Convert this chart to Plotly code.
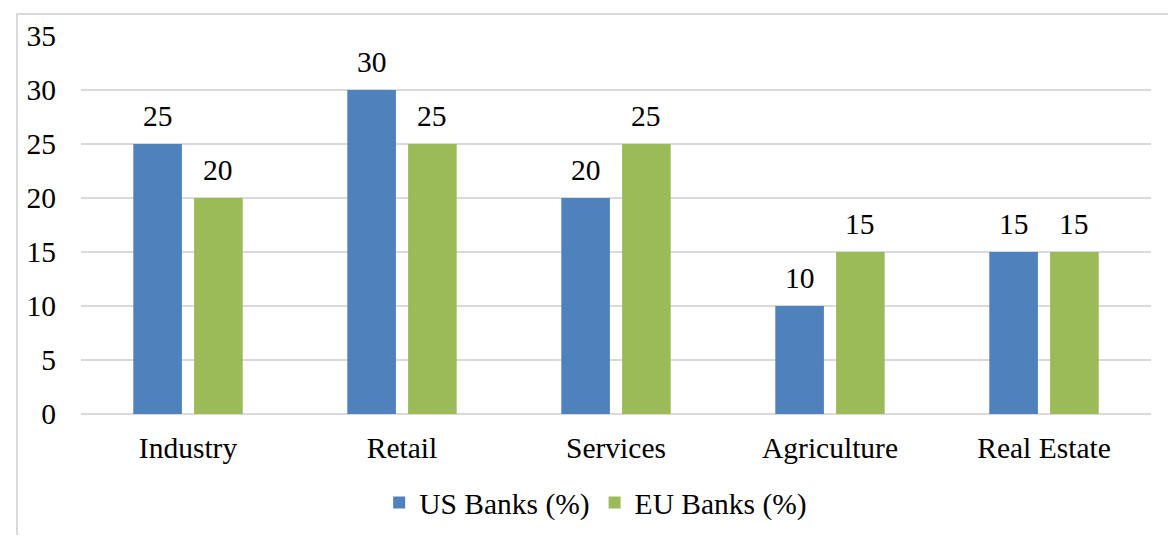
import plotly.graph_objects as go

categories = ["Industry", "Retail", "Services", "Agriculture", "Real Estate"]
us_banks = [25, 30, 20, 10, 15]
eu_banks = [20, 25, 25, 15, 15]
y_ticks = [0, 5, 10, 15, 20, 25, 30, 35]

FONT = "Liberation Serif"
FS = 29.5
BLUE = "#4F81BD"
GREEN = "#9BBB59"

fig = go.Figure()
fig.add_trace(go.Bar(name="US Banks (%)", x=categories, y=us_banks,
                     marker=dict(color=BLUE, line=dict(width=0))))
fig.add_trace(go.Bar(name="EU Banks (%)", x=categories, y=eu_banks,
                     marker=dict(color=GREEN, line=dict(width=0))))

annotations = []
for series, shift in ((us_banks, -30), (eu_banks, 30)):
    for c, v in zip(categories, series):
        annotations.append(dict(x=c, y=v, xref="x", yref="y", text=str(v),
                                showarrow=False, xshift=shift, yshift=28,
                                yanchor="middle",
                                font=dict(family=FONT, size=FS, color="black")))

fig.update_layout(
    width=1160, height=527,
    margin=dict(l=73, r=17, t=28, b=121, autoexpand=False),
    paper_bgcolor="white", plot_bgcolor="white",
    barmode="group", bargap=0.432, bargroupgap=0.2,
    font=dict(family=FONT, size=FS, color="black"),
    showlegend=True,
    legend=dict(orientation="h", x=0.481, xanchor="center", y=-0.235, yanchor="middle",
                font=dict(family=FONT, size=FS, color="black"),
                itemclick=False, traceorder="normal"),
    annotations=annotations,
    shapes=[dict(type="rect", xref="paper", yref="paper",
                 x0=-0.0598, x1=1.2, y0=-0.6, y1=1.058,
                 line=dict(color="#d9d9d9", width=2), fillcolor="rgba(0,0,0,0)",
                 layer="below")],
)
fig.update_xaxes(showline=False, showgrid=False, ticks="", ticklabelstandoff=13,
                 automargin=False,
                 tickfont=dict(family=FONT, size=FS, color="black"))
fig.update_yaxes(range=[0, 35], tickvals=y_ticks, showgrid=True, gridcolor="#d9d9d9",
                 gridwidth=2, zeroline=True, zerolinecolor="#d9d9d9", zerolinewidth=2,
                 showline=False, ticks="", ticklabelstandoff=24, automargin=False,
                 tickfont=dict(family=FONT, size=FS, color="black"))

fig.write_html("out.html")
